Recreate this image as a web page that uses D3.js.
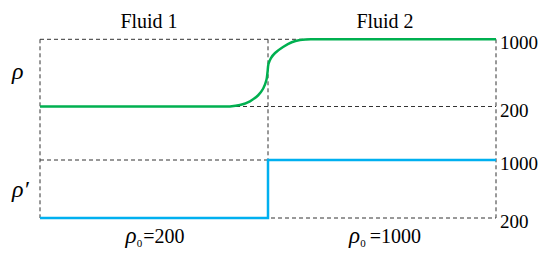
<!DOCTYPE html>
<html>
<head>
<meta charset="utf-8">
<script src="https://cdn.jsdelivr.net/npm/d3@7"></script>
<style>
  html, body { margin: 0; padding: 0; background: #fff; }
  svg { display: block; }
  svg text { font-family: "Liberation Serif", "Times New Roman", "DejaVu Serif", serif; fill: #000; }
</style>
</head>
<body>
<svg id="chart" width="550" height="262"></svg>
<script>
// ---- data ----
const fluids = ["Fluid 1", "Fluid 2"];
const baseDensity = [200, 1000];
const yTicks = [200, 1000];
// smooth density profile rho (position across domain, interface at 1)
const rhoPos = [0, 0.75, 0.80, 0.833, 0.877, 0.921, 0.957, 0.979, 0.993, 0.998, 1.002, 1.013, 1.031, 1.066, 1.104, 1.140, 1.167, 1.20, 1.25, 2];
const rhoVal = [200, 200, 200, 201, 218, 262, 334, 414, 515, 611, 706, 777, 837, 908, 965, 992, 999, 1000, 1000, 1000];
// sharp density rho'
const rhoPPos = [0, 1, 1, 2];
const rhoPVal = [200, 200, 1000, 1000];

// ---- layout ----
const svg = d3.select("#chart");
const x = d3.scaleLinear().domain([0, 2]).range([40, 496]);
const yTop = d3.scaleLinear().domain([200, 1000]).range([106.5, 39.3]);
const yBot = d3.scaleLinear().domain([200, 1000]).range([218, 160]);

const dash = "4,3";
const gridColor = "#333";

// dashed frame lines
const g = svg.append("g").attr("stroke", gridColor).attr("stroke-width", 1).attr("stroke-dasharray", dash).attr("fill", "none");
[0, 1, 2].forEach(p => {
  g.append("line").attr("x1", x(p)).attr("x2", x(p)).attr("y1", yTop(1000)).attr("y2", yBot(200));
});
yTicks.forEach(v => {
  g.append("line").attr("x1", x(0)).attr("x2", x(2)).attr("y1", yTop(v)).attr("y2", yTop(v));
  g.append("line").attr("x1", x(0)).attr("x2", x(2)).attr("y1", yBot(v)).attr("y2", yBot(v));
});

// rho profile
const rhoData = rhoPos.map((p, i) => [p, rhoVal[i]]);
svg.append("path")
  .datum(rhoData)
  .attr("fill", "none")
  .attr("stroke", "#00b050")
  .attr("stroke-width", 2.5)
  .attr("d", d3.line().x(d => x(d[0])).y(d => yTop(d[1])).curve(d3.curveCatmullRom.alpha(0.5)));

// rho' profile
const rhoPData = rhoPPos.map((p, i) => [p, rhoPVal[i]]);
svg.append("path")
  .datum(rhoPData)
  .attr("fill", "none")
  .attr("stroke", "#00b0f0")
  .attr("stroke-width", 2.5)
  .attr("d", d3.line().x(d => x(d[0])).y(d => yBot(d[1])));

// right axes (tick labels)
const axTop = d3.axisRight(yTop).tickValues(yTicks).tickSize(0).tickPadding(4).tickFormat(d3.format("d"));
const axBot = d3.axisRight(yBot).tickValues(yTicks).tickSize(0).tickPadding(4).tickFormat(d3.format("d"));
[axTop, axBot].forEach(ax => {
  const a = svg.append("g").attr("transform", `translate(${x(2)},0)`).call(ax);
  a.select(".domain").remove();
  a.selectAll("text").attr("font-size", 19).attr("dy", "0.5em");
});

// fluid titles
fluids.forEach((f, i) => {
  svg.append("text")
    .attr("x", x(i + 0.5) + (i === 0 ? -5 : 3))
    .attr("y", 28)
    .attr("text-anchor", "middle")
    .attr("font-size", 20)
    .text(f);
});

// left labels
svg.append("text").attr("x", 12).attr("y", 79).attr("font-size", 24).attr("font-style", "italic").text("ρ");
svg.append("text").attr("x", 12).attr("y", 197).attr("font-size", 24).attr("font-style", "italic").text("ρ′");

// bottom labels rho_0 = ...
baseDensity.forEach((v, i) => {
  const t = svg.append("text")
    .attr("x", x(i + 0.5) + (i === 0 ? 1 : 3))
    .attr("y", 243)
    .attr("text-anchor", "middle")
    .attr("font-size", 20);
  t.append("tspan").attr("font-style", "italic").attr("font-size", 23).text("ρ");
  t.append("tspan").attr("font-size", 11).attr("dy", 4).text("0");
  t.append("tspan").attr("dy", -4).attr("dx", i === 0 ? 1 : 4).text("=" + v);
});
</script>
</body>
</html>
